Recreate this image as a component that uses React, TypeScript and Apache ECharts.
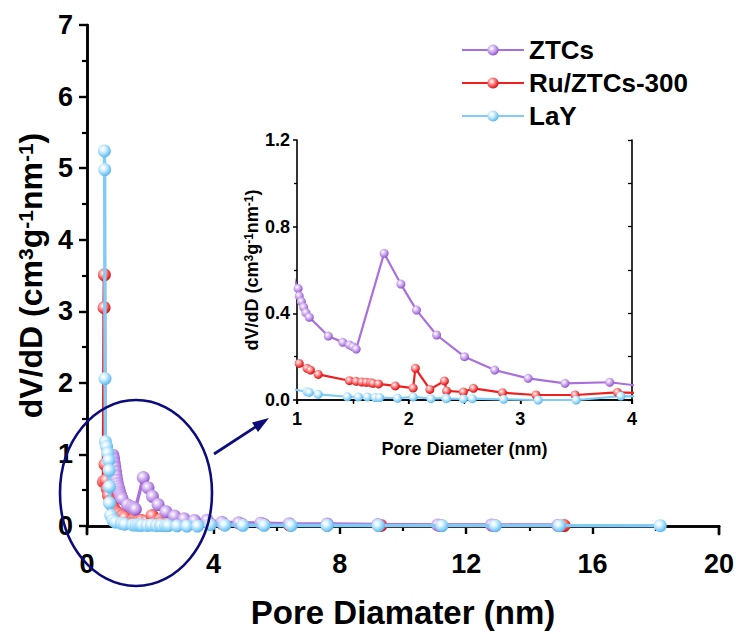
import React, { useEffect, useRef } from 'react';
import * as echarts from 'echarts';

const FONT = '"Liberation Sans", Arial, Helvetica, sans-serif';
const NAVY = '#0c0c7c';

const seriesNames = ['ZTCs', 'Ru/ZTCs-300', 'LaY'];

// [pore diameter (nm), dV/dD]
const ztcsData: number[][] = [
  [0.82, 0.99], [0.84, 0.94], [0.86, 0.88], [0.88, 0.82], [0.9, 0.76], [0.92, 0.7], [0.94, 0.64], [0.96, 0.59], [0.98, 0.55],
  [1.01, 0.515], [1.02, 0.48], [1.04, 0.454], [1.06, 0.428], [1.08, 0.403], [1.11, 0.382], [1.28, 0.295], [1.41, 0.266],
  [1.47, 0.254], [1.5, 0.246], [1.53, 0.235], [1.78, 0.677], [1.93, 0.535], [2.07, 0.415], [2.25, 0.3], [2.5, 0.2],
  [2.77, 0.138], [3.07, 0.1], [3.4, 0.077], [3.8, 0.082], [4.27, 0.052], [4.8, 0.045], [5.5, 0.04], [6.4, 0.033],
  [7.6, 0.028], [9.2, 0.02], [11.1, 0.015], [12.8, 0.014], [14.9, 0.01],
];

const ruData: number[][] = [
  [0.52, 0.62], [0.54, 3.05], [0.55, 3.51], [0.57, 0.86], [0.6, 0.64], [0.64, 0.52], [0.68, 0.43], [0.73, 0.35],
  [0.79, 0.29], [0.85, 0.24], [0.91, 0.2], [0.96, 0.18], [1.02, 0.169], [1.09, 0.146], [1.12, 0.138], [1.19, 0.118],
  [1.47, 0.089], [1.53, 0.086], [1.58, 0.083], [1.62, 0.082], [1.66, 0.08], [1.68, 0.077], [1.73, 0.074], [1.88, 0.065],
  [2.04, 0.055], [2.06, 0.146], [2.19, 0.049], [2.32, 0.088], [2.34, 0.042], [2.49, 0.037], [2.58, 0.054], [2.84, 0.034],
  [3.14, 0.023], [3.49, 0.023], [3.87, 0.035], [4.3, 0.028], [4.9, 0.022], [5.6, 0.02], [6.4, 0.016], [7.6, 0.012],
  [9.3, 0.008], [11.2, 0.006], [12.9, 0.006], [15.1, 0.006],
];

const layData: number[][] = [
  [0.55, 5.24], [0.56, 4.98], [0.57, 2.06], [0.58, 1.18], [0.62, 1.11], [0.66, 1.02], [0.69, 0.92], [0.7, 0.78],
  [0.71, 0.55], [0.71, 0.32], [0.75, 0.15], [0.82, 0.08], [0.9, 0.055], [1.09, 0.038], [1.11, 0.035], [1.19, 0.026],
  [1.45, 0.015], [1.55, 0.014], [1.63, 0.014], [1.7, 0.011], [1.74, 0.011], [1.9, 0.008], [2.04, 0.014], [2.2, 0.006],
  [2.33, 0.009], [2.34, 0.006], [2.49, 0.005], [2.57, 0.006], [2.85, 0.003], [3.16, 0.0], [3.5, 0.0], [3.9, 0.018],
  [4.36, 0.012], [4.93, 0.01], [5.6, 0.01], [6.46, 0.008], [7.6, 0.008], [9.22, 0.006], [11.23, 0.005], [12.92, 0.005],
  [14.95, 0.005], [18.14, 0.004],
];

const mainXTicks = { min: 0, max: 20, interval: 4 };
const mainYTicks = { min: 0, max: 7, interval: 1 };
const insetXTicks = { min: 1, max: 4, interval: 1 };
const insetYTicks = { min: 0, max: 1.2, interval: 0.4 };

const sphere = (light: string, base: string, dark: string) => ({
  type: 'radial',
  x: 0.38,
  y: 0.36,
  r: 0.66,
  colorStops: [
    { offset: 0, color: '#ffffff' },
    { offset: 0.25, color: light },
    { offset: 0.72, color: base },
    { offset: 1, color: dark },
  ],
});

const styles: Record<string, { line: string; grad: any }> = {
  ZTCs: { line: '#a96fdc', grad: sphere('#e6d3f8', '#b384e2', '#8a52c6') },
  'Ru/ZTCs-300': { line: '#f01e1e', grad: sphere('#ffb8b8', '#f24040', '#c81212') },
  LaY: { line: '#80ccf7', grad: sphere('#e9f7ff', '#8ad2f9', '#5db3e6') },
};

const titleRich = (fs: number, sup: number, supLH: number) => ({
  n: { fontSize: fs, fontWeight: 'bold', fontFamily: FONT, color: '#000', lineHeight: fs },
  s: { fontSize: sup, fontWeight: 'bold', fontFamily: FONT, color: '#000', verticalAlign: 'top', lineHeight: supLH },
});
const yTitle = '{n|dV/dD (cm}{s|3}{n|g}{s|-1}{n|nm}{s|-1}{n|)}';

export default function App() {
  const ref = useRef<HTMLDivElement>(null);

  useEffect(() => {
    if (!ref.current) return;
    const chart = echarts.init(ref.current, undefined, { renderer: 'svg' });

    const mainLine = { show: true, lineStyle: { color: '#000', width: 2.5 } };
    const insetLine = { show: true, lineStyle: { color: '#000', width: 1.6 } };
    const tick = (len: number, inside: boolean, w: number) => ({
      show: true, inside, length: len, lineStyle: { color: '#000', width: w },
    });
    const minor = (len: number, w: number) => ({
      show: true, splitNumber: 2, length: len, lineStyle: { color: '#000', width: w },
    });
    const noSplit = { show: false };

    const mk = (name: string, data: number[][], xi: number, yi: number, size: number, lw: number, z: number) => ({
      type: 'line',
      name,
      data,
      xAxisIndex: xi,
      yAxisIndex: yi,
      symbol: 'circle',
      symbolSize: size,
      showSymbol: true,
      clip: true,
      z,
      lineStyle: { color: styles[name].line, width: lw },
      itemStyle: { color: styles[name].grad, borderWidth: 0 },
      emphasis: { disabled: true },
    });

    const option: any = {
      animation: false,
      backgroundColor: '#ffffff',
      textStyle: { fontFamily: FONT },
      grid: [
        { left: 87, top: 25, width: 632, height: 501, containLabel: false, outerBoundsMode: 'none' },
        { left: 297, top: 140, width: 335, height: 260, containLabel: false, outerBoundsMode: 'none' },
      ],
      legend: {
        data: seriesNames,
        orient: 'vertical',
        left: 456,
        top: 32,
        itemWidth: 62,
        itemHeight: 14,
        itemGap: 7,
        selectedMode: false,
        textStyle: { fontSize: 26, fontWeight: 'bold', color: '#000', fontFamily: FONT, lineHeight: 26 },
      },
      xAxis: [
        {
          gridIndex: 0, type: 'value', ...mainXTicks, position: 'bottom', offset: 8,
          axisLine: mainLine, axisTick: tick(8, false, 2.4), minorTick: minor(5, 2.2),
          axisLabel: { fontSize: 27, fontWeight: 'bold', color: '#000', fontFamily: FONT, margin: 16 },
          splitLine: noSplit, minorSplitLine: noSplit,
          name: 'Pore Diamater (nm)', nameLocation: 'middle', nameGap: 62,
          nameTextStyle: { fontSize: 33, fontWeight: 'bold', color: '#000', fontFamily: FONT },
        },
        {
          gridIndex: 0, type: 'value', ...mainXTicks, position: 'top',
          axisLine: mainLine, axisTick: tick(5, true, 2), minorTick: { ...minor(5, 2) },
          axisLabel: { show: false }, splitLine: noSplit, minorSplitLine: noSplit,
        },
        {
          gridIndex: 1, type: 'value', ...insetXTicks, position: 'bottom', offset: 3,
          axisLine: insetLine, axisTick: tick(4, false, 1.5), minorTick: minor(3, 1.3),
          axisLabel: { fontSize: 18, fontWeight: 'bold', color: '#000', fontFamily: FONT, margin: 7 },
          splitLine: noSplit, minorSplitLine: noSplit,
          name: 'Pore Diameter (nm)', nameLocation: 'middle', nameGap: 37,
          nameTextStyle: { fontSize: 18, fontWeight: 'bold', color: '#000', fontFamily: FONT },
        },
        {
          gridIndex: 1, type: 'value', ...insetXTicks, position: 'top',
          axisLine: insetLine, axisTick: tick(4, true, 1.3), minorTick: minor(4, 1.3),
          axisLabel: { show: false }, splitLine: noSplit, minorSplitLine: noSplit,
        },
      ],
      yAxis: [
        {
          gridIndex: 0, type: 'value', ...mainYTicks, position: 'left',
          axisLine: mainLine, axisTick: tick(8, false, 2.4), minorTick: minor(5, 2.2),
          axisLabel: { fontSize: 27, fontWeight: 'bold', color: '#000', fontFamily: FONT, margin: 14 },
          splitLine: noSplit, minorSplitLine: noSplit,
          name: yTitle, nameLocation: 'middle', nameRotate: 90, nameGap: 37,
          nameTextStyle: { rich: titleRich(32, 21, 12) },
        },
        {
          gridIndex: 0, type: 'value', ...mainYTicks, position: 'right',
          axisLine: mainLine, axisTick: tick(5, true, 2), minorTick: minor(5, 2),
          axisLabel: { show: false }, splitLine: noSplit, minorSplitLine: noSplit,
        },
        {
          gridIndex: 1, type: 'value', ...insetYTicks, position: 'left',
          axisLine: insetLine, axisTick: tick(4, false, 1.5), minorTick: minor(3, 1.3),
          axisLabel: {
            fontSize: 18, fontWeight: 'bold', color: '#000', fontFamily: FONT, margin: 7,
            formatter: (v: number) => v.toFixed(1),
          },
          splitLine: noSplit, minorSplitLine: noSplit,
          name: yTitle, nameLocation: 'middle', nameRotate: 90, nameGap: 33,
          nameTextStyle: { rich: titleRich(18, 12, 7) },
        },
        {
          gridIndex: 1, type: 'value', ...insetYTicks, position: 'right',
          axisLine: insetLine, axisTick: tick(4, true, 1.3), minorTick: minor(4, 1.3),
          axisLabel: { show: false }, splitLine: noSplit, minorSplitLine: noSplit,
        },
      ],
      series: [
        mk('Ru/ZTCs-300', ruData, 0, 0, 13, 3.4, 2),
        mk('ZTCs', ztcsData, 0, 0, 13, 3.4, 3),
        mk('LaY', layData, 0, 0, 13, 3.4, 4),
        mk('ZTCs', ztcsData, 2, 2, 9, 2.2, 3),
        mk('Ru/ZTCs-300', ruData, 2, 2, 9, 2.2, 3),
        mk('LaY', layData, 2, 2, 9, 2.2, 3),
      ],
      graphic: [
        { type: 'line', z: 50, shape: { x1: 87, y1: 525, x2: 87, y2: 535.2 }, style: { stroke: '#000', lineWidth: 2.5 } },
        { type: 'line', z: 50, shape: { x1: 719, y1: 525, x2: 719, y2: 535.2 }, style: { stroke: '#000', lineWidth: 2.5 } },
        { type: 'line', z: 50, shape: { x1: 297, y1: 399, x2: 297, y2: 404 }, style: { stroke: '#000', lineWidth: 1.6 } },
        { type: 'line', z: 50, shape: { x1: 632, y1: 399, x2: 632, y2: 404 }, style: { stroke: '#000', lineWidth: 1.6 } },
        {
          type: 'ellipse', z: 100,
          shape: { cx: 136, cy: 493, rx: 76, ry: 93 },
          style: { fill: 'none', stroke: NAVY, lineWidth: 2.6 },
        },
        { type: 'line', z: 100, shape: { x1: 214, y1: 454, x2: 257, y2: 426 }, style: { stroke: NAVY, lineWidth: 2.8 } },
        {
          type: 'polygon', z: 100,
          shape: { points: [[269, 418], [258, 432], [252, 422.5]] },
          style: { fill: NAVY },
        },
      ],
    };

    chart.setOption(option);
    return () => chart.dispose();
  }, []);

  return (
    <div
      ref={ref}
      style={{ position: 'absolute', left: 0, top: 0, width: 736, height: 634, background: '#fff' }}
    />
  );
}
